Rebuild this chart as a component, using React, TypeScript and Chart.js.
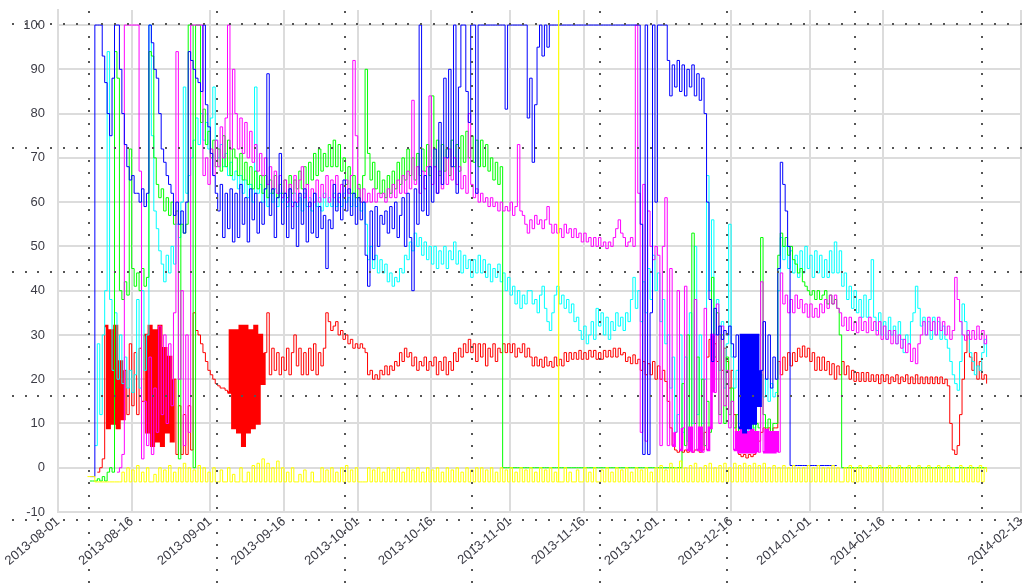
import React, { useEffect, useRef } from "react";
import { Chart, registerables } from "chart.js";

Chart.register(...registerables);

// ---- axes ----
const X_MIN_DAY = 0;
const X_MAX_DAY = 196;
const X_TICK_DAYS = [0, 15, 31, 46, 61, 76, 92, 107, 122, 137, 153, 168, 196];
const X_TICK_LABELS = [
  "2013-08-01", "2013-08-16", "2013-09-01", "2013-09-16", "2013-10-01", "2013-10-16",
  "2013-11-01", "2013-11-16", "2013-12-01", "2013-12-16", "2014-01-01", "2014-01-16", "2014-02-13",
];
const Y_MIN = -10;
const Y_MAX = 103.4;
const Y_TICKS = [-10, 0, 10, 20, 30, 40, 50, 60, 70, 80, 90, 100];

// ---- sampling: every series is read at half-day steps from day 6 (2013-08-07) ----
const START_DAY = 6;
const STEP_DAYS = 0.5;

// ---- series values ----
const blueValues = [
  null, -2, -2, 100, 100, 100, 93, 87, 80, 75, 88, 100, 100, 90, 80, 73, 68, 65, 66, 62,
  62, 60, 63, 59, 62, 100, 96, 90, 88, 80, 72, 69, 66, 64, 62, 57, 60, 55, 58, 53,
  60, 94, 92, 90, 88, 87, 85, 100, 82, 77, 71, 66, 62, 58, 64, 52, 62, 54, 63, 51,
  62, 52, 64, 55, 61, 51, 63, 56, 62, 53, 60, 55, 63, 89, 57, 63, 52, 61, 71, 55,
  62, 52, 63, 54, 60, 50, 62, 55, 63, 51, 60, 53, 62, 52, 59, 54, 57, 45, 56, 54,
  64, 58, 62, 56, 65, 58, 63, 57, 62, 55, 61, 56, 60, 48, 41, 58, 47, 59, 50, 57,
  55, 58, 53, 59, 54, 60, 52, 57, 61, 50, 62, 52, 40, 63, 55, 100, 58, 66, 57, 68,
  60, 72, 62, 78, 64, 88, 70, 90, 68, 100, 62, 86, 100, 100, 85, 78, 100, 100, 62, 100,
  100, 100, 100, 100, 100, 100, 100, 100, 100, 100, 81, 100, 100, 100, 100, 100, 100, 100, 100, 79,
  88, 69, 82, 95, 100, 93, 100, 95, 100, 100, 100, 100, 100, 100, 100, 100, 100, 100, 100, 100,
  100, 100, 100, 100, 100, 100, 100, 100, 100, 100, 100, 100, 100, 100, 100, 100, 100, 100, 100, 100,
  100, 100, 100, 100, 100, 55, 3, 100, 3, 35, 100, 60, 100, 100, 100, 100, 92, 84, 91, 86,
  92, 85, 91, 84, 90, 86, 91, 84, 89, 83, 88, 80, 60, 38, 24, 36, 30, 32, 29, 31,
  30, 32, 28, 25, 30, 9, 30, 8, 30, 9, 30, 10, 30, 14, 22, 33, 20, 30, 18, 25,
  20, 45, 69, 64, 58, 50, 0.5, 0.5, 0.5, 0.5, 0.5, 0.5, 0.5, 0.5, 0.5, 0.5, 0.5, 0.5, 0.5, 0.5,
  0.5, 0.5, 0.5, 0.5, 0.5, 0.5,
];

const greenValues = [
  null, -3, -3, -3, -2.5, -3, -2, -3, -1, 0, -1, 94, 88, 40, 38, 42, 39, 72, 45, 41,
  44, 40, 45, 41, 43, 94, 93, 70, 64, 61, 63, 58, 61, 57, 60, 55, 58, 2, 55, 53,
  55, 100, 100, 0, 100, 100, 78, 81, 73, 76, 70, 74, 68, 72, 67, 75, 68, 74, 66, 72,
  70, 66, 71, 65, 69, 64, 68, 63, 67, 63, 66, 62, 66, 61, 65, 62, 66, 61, 64, 62,
  65, 61, 66, 62, 65, 63, 67, 63, 68, 64, 69, 65, 71, 66, 72, 67, 71, 68, 73, 68,
  74, 68, 73, 67, 70, 64, 68, 62, 66, 61, 64, 60, 66, 90, 71, 65, 69, 63, 67, 62,
  65, 61, 66, 62, 67, 63, 69, 64, 70, 65, 72, 66, 70, 65, 71, 66, 72, 67, 73, 66,
  84, 68, 74, 66, 73, 67, 72, 66, 74, 68, 73, 67, 75, 69, 76, 70, 75, 69, 74, 68,
  74, 68, 73, 67, 70, 65, 69, 64, 68, 0, 0, 0, 0, 0, 0, 0, 0, 0, 0, 0,
  0, 0, 0, 0, 0, 0, 0, 0, 0, 0, 0, 0, 0, 0, 0, 0, 0, 0, 0, 0,
  0, 0, 0, 0, 0, 0, 0, 0, 0, 0, 0, 0, 0, 0, 0, 0, 0, 0, 0, 0,
  0, 0, 0, 0, 0, 0, 0, 0, 0, 0, 0, 0, 0, 0, 0, 0, 0, 0, 0, 0,
  0, 0, 19, 5, 30, 8, 53, 10, 25, 6, 20, 5, 15, 8, 43, 25, 35, 12, 30, 10,
  25, 12, 18, 9, 12, 8, 11, 8, 12, 9, 11, 8, 10, 9, 52, 12, 9, 11, 8, 10,
  10, 48, 53, 50, 52, 48, 50, 47, 46, 44, 45, 42, 41, 40, 39, 40, 38, 40, 38, 39,
  40, 37, 39, 37, 38, 36, 30, 0, 0, 0, 0, 0, 0, 0, 0, 0, 0, 0, 0, 0,
  0, 0, 0, 0, 0, 0, 0, 0, 0, 0, 0, 0, 0, 0, 0, 0, 0, 0, 0, 0,
  0, 0, 0, 0, 0, 0, 0, 0, 0, 0, 0, 0, 0, 0, 0, 0, 0, 0, 0, 0,
  0, 0, 0, 0, 0, 0, 0,
];

const cyanValues = [
  null, null, null, 5, 28, 12, 30, 40, 94, 38, 22, 35, 20, 30, 19, 25, 18, 22, 17, 21,
  38, 18, 40, 22, 30, 100, 75, 58, 54, 49, 46, 42, 48, 44, 50, 46, 55, 52, 60, 86,
  62, 66, 70, 74, 79, 73, 80, 74, 78, 72, 79, 86, 74, 70, 73, 68, 71, 66, 69, 65,
  67, 63, 66, 62, 65, 61, 64, 60, 86, 62, 64, 60, 63, 59, 62, 60, 63, 59, 62, 60,
  62, 59, 63, 60, 62, 59, 61, 58, 62, 59, 61, 58, 62, 59, 61, 58, 62, 59, 61, 59,
  62, 59, 61, 59, 62, 60, 61, 59, 62, 59, 61, 58, 60, 55, 47, 50, 45, 48, 44, 47,
  44, 46, 42, 44, 41, 43, 42, 45, 44, 48, 47, 51, 49, 53, 50, 52, 48, 51, 47, 50,
  46, 50, 45, 49, 46, 50, 45, 49, 47, 51, 46, 49, 44, 48, 45, 47, 43, 47, 44, 48,
  44, 47, 43, 46, 42, 45, 43, 46, 42, 44, 40, 43, 39, 41, 37, 40, 36, 39, 37, 40,
  40, 37, 38, 35, 39, 41, 36, 33, 31, 35, 39, 41, 37, 39, 36, 38, 35, 37, 33, 34,
  31, 29, 32, 28, 30, 33, 29, 36, 32, 35, 30, 34, 29, 33, 31, 35, 32, 34, 31, 35,
  33, 38, 43, 36, 40, 33, 42, 35, 45, 38, 48, 40, 44, 33, 38, 28, 30, 18, 25, 8,
  12, 30, 8, 25, 6, 35, 10, 50, 12, 30, 10, 20, 66, 40, 56, 30, 38, 22, 33, 18,
  28, 55, 25, 18, 22, 10, 14, 9, 13, 8, 12, 9, 14, 18, 21, 16, 20, 15, 19, 16,
  17, 40, 52, 47, 50, 45, 49, 44, 48, 43, 49, 44, 50, 45, 48, 43, 49, 44, 48, 43,
  47, 43, 49, 44, 51, 44, 49, 41, 44, 38, 41, 36, 40, 35, 38, 34, 39, 34, 38, 47,
  34, 31, 35, 30, 33, 29, 34, 30, 32, 28, 33, 29, 26, 30, 28, 33, 35, 41, 36, 32,
  34, 30, 33, 29, 34, 30, 33, 29, 32, 29, 27, 24, 21, 19, 17.5, 24, 37, 33, 30, 26,
  24, 21, 23, 22, 26, 29, 25,
];

const magentaValues = [
  null, null, null, null, null, null, null, null, null, null, null, null, -1, 0, 3, 100, 100, 100, 100, 100,
  100, 67, 2, 15, 5, 25, 3, 18, 8, 32, 12, 30, 10, 28, 14, 35, 94, 20, 40, 5,
  30, 8, 100, 100, 100, 100, 100, 66, 70, 64, 72, 66, 74, 68, 77, 70, 79, 100, 72, 90,
  80, 72, 79, 71, 78, 70, 76, 69, 73, 67, 71, 66, 70, 64, 68, 63, 67, 62, 66, 61,
  65, 60, 64, 59, 66, 60, 65, 68, 61, 64, 59, 63, 60, 65, 60, 64, 61, 66, 60, 65,
  61, 66, 60, 64, 61, 65, 62, 66, 92, 75, 63, 60, 63, 60, 62, 60, 63, 60, 62, 61,
  62, 60, 63, 61, 64, 61, 65, 62, 66, 62, 67, 63, 83, 64, 68, 62, 67, 63, 68, 84,
  64, 68, 62, 67, 63, 70, 64, 72, 65, 70, 64, 68, 63, 66, 62, 80, 64, 61, 63, 60,
  62, 60, 61, 59, 61, 59, 60, 58, 60, 58, 59, 58, 60, 57, 59, 73, 58, 57, 55, 53,
  56, 54, 57, 55, 56, 54, 56, 59, 55, 53, 55, 53, 54, 52, 55, 53, 54, 52, 54, 52,
  53, 51, 53, 51, 52, 50, 52, 50, 52, 50, 51, 49.5, 51, 50, 52, 54, 56, 53, 52, 50,
  51, 52, 50, 100, 62, 8, 64, 6, 58, 50, 47, 50, 48, 5, 50, 61, 5, 45, 5, 8,
  40, 4, 9, 41, 4, 9, 3.5, 38, 4, 9, 3.5, 36, 4, 9, 30, 17, 37, 10, 32, 14,
  22, 9, 15, 4, 8, 3.5, 8.5, 3.5, 8, 3.5, 8.5, 3.5, 8, 3.5, 42, 3.5, 8.5, 3.5, 8, 3.5,
  8, 3.5, 44, 37, 39, 35, 38, 35, 39, 36, 38, 35, 37, 34, 37, 34, 36, 34, 37, 35,
  38, 36, 39, 37, 39, 36, 35, 32, 34, 31, 34, 31, 33, 30.5, 34, 31, 33, 30.5, 34, 31,
  33, 30, 33, 29, 32, 29, 31, 28, 31, 28, 30, 27, 29, 26, 28, 24, 27, 23.5, 28, 30,
  33, 30, 34, 31, 33, 30, 34, 31, 33, 30, 32, 29, 31, 43, 38, 33, 30, 28.8, 31, 29,
  31, 29, 32, 29, 31, 28, 30,
];

const redValues = [
  null, null, null, null, -1, 0, 2, 32, 9, 31, 10, 32, 9, 24, 11, 22, 12, 28, 14, 26,
  12, 27, 15, 30, 8, 32, 5, 31, 6, 32, 5, 27, 8, 25, 6, 20, 3, 14, 3, 12,
  3, 14, 4, 35, 31, 30, 28, 26, 24, 22, 21, 20, 19, 18.5, 18, 18, 17.5, 17, 31, 9,
  31, 8, 32, 5, 32, 8, 31, 9, 32, 10, 30, 19, 26, 35, 21, 27, 22, 26, 21, 25,
  22, 27, 21, 26, 30, 23, 27, 21, 26, 21, 27, 22, 28, 21, 26, 23, 27, 35, 33, 31,
  32, 33, 30, 31, 29, 30, 28, 29, 27, 28, 27, 28, 27, 26, 21, 22, 20, 21, 20, 22,
  21, 23, 21, 23, 22, 24, 23, 26, 24, 27, 25, 26, 23, 25, 22, 24, 23, 25, 22, 24,
  23, 25, 21, 24, 22, 25, 21, 24, 22, 26, 24, 27, 25, 28, 26, 29, 26, 28, 24, 28,
  25, 28, 23, 27, 25, 28, 24, 27, 26, 28, 26, 28, 26, 28, 25, 27, 26, 28, 25, 27,
  25, 23, 25, 23, 24.5, 22.7, 25, 23, 24, 22.7, 25, 23, 24.5, 23, 26, 24, 26, 24.5, 26, 24.5,
  26.5, 24.5, 26, 24.5, 26.5, 25, 26.5, 24.5, 26, 24.5, 26.5, 25, 26.5, 25, 27, 25, 27, 25.5, 26, 24,
  25, 23.5, 25.5, 23.5, 24.5, 22, 24, 21, 23.5, 21, 24, 20, 23, 20, 22, 19.5, 15, 9, 5, 4,
  3.5, 4, 3.5, 4, 3.5, 4, 3.5, 4, 4, 3.5, 4, 8, 25, 29, 22, 28, 24, 30, 22, 27,
  24, 18, 22, 12, 5, 3, 2.5, 3, 2.2, 3, 2.5, 3, 4, 6, 8, 9, 8, 9, 8, 9,
  9, 24, 21, 25, 22, 26, 23, 26, 24, 27, 25, 27.5, 25, 27, 24, 26, 22, 25, 22, 25,
  22, 24, 21, 23.5, 20, 23, 21, 24, 21, 23, 20, 22, 19.5, 21.5, 19.5, 21.5, 19.5, 21.5, 19.5, 21,
  19.5, 21, 19, 21, 19.5, 21, 19, 20.5, 19.5, 21, 19, 20.5, 19.5, 21, 19, 20.5, 19, 21, 19, 20.5,
  19, 20.5, 19, 20.5, 19, 20.5, 19, 20.5, 19, 20, 18.5, 10, 4, 3, 5, 12, 20, 26, 30, 25,
  22, 26, 20, 24, 20, 21, 19,
];

const yellowValues = [
  -2, -2, -2, -3.2, -3.2, -3.2, -3.2, -3.2, -3.2, -3.2, -3.2, -3.2, -3.2, -3.2, -1, -3.2, 0, -3.2, -0.5, -3.2,
  0.5, -3.2, -1, -3.2, 0, -3.2, -3.2, -1.5, -3.2, 0, -3.2, -0.5, -3.2, 0.5, -3.2, -1, -3.2, 0, -3.2, 1,
  -3.2, 0, -3.2, -0.5, -3.2, 0.5, -3.2, 0, -3.2, -1, -3.2, 0, -3.2, -3.2, -0.5, -3.2, -3.2, 0, -3.2, -1.5,
  -3.2, -3.2, 0, -3.2, -3.2, -1, -3.2, 0.5, -3.2, 1, -3.2, 2, -3.2, 1, -3.2, 0, -3.2, 1.5, -3.2, 0,
  -3.2, -1, -3.2, 0, -3.2, -3.2, -1.5, -3.2, -0.5, -3.2, -3.2, -1, -3.2, -3.2, -3.2, 0, -3.2, -0.5, -3.2, 0,
  -3.2, -1, -3.2, 0, -3.2, 0.5, -3.2, -0.5, -3.2, 0, -3.2, -3.2, -3.2, -3.2, 0, -3.2, -0.5, -3.2, 0, -3.2,
  -1, -3.2, 0, -3.2, -0.5, -3.2, 0, -3.2, -1, -3.2, 0, -3.2, -0.5, -3.2, 0, -3.2, -1, -3.2, 0, -3.2,
  -0.5, -3.2, 0, -3.2, -1, -3.2, 0, -3.2, -0.5, -3.2, 0, -3.2, -1, -3.2, 0, -3.2, -0.5, -3.2, 0, -3.2,
  0, -3.2, -0.5, -3.2, 0, -3.2, -1, -3.2, 0, -3.2, -0.5, -3.2, 0, -3.2, -1, -3.2, 0, -3.2, -0.5, -3.2,
  0, -3.2, -1, -3.2, 0, -3.2, -0.5, -3.2, 0, -3.2, -1, -3.2, -3.2, -3.2, 0, -3.2, -1, -3.2, -3.2, -0.5,
  -3.2, -3.2, 0, -3.2, -1, -3.2, 0, -3.2, -3.2, -0.5, -3.2, 0, -3.2, -1, -3.2, 0, -3.2, -0.5, -3.2, 0,
  -3.2, -1, -3.2, 0, -3.2, -0.5, -3.2, 0, -3.2, -1, -3.2, 0, -3.2, 0.5, -3.2, -0.5, -3.2, 1, -3.2, 0,
  -3.2, 1.5, -3.2, 0, -3.2, 0.5, -3.2, 1, -3.2, 0, -3.2, 0.5, -3.2, 1, -3.2, 0, -3.2, 0.5, -3.2, 1,
  -3.2, 0, -3.2, 1, -3.2, 0.5, -3.2, 1, -3.2, 0.5, -3.2, 1, -3.2, 0.5, -3.2, 1, -3.2, 0, -3.2, 0.5,
  -3.2, 0, -3.2, 0.5, -3.2, 0, -3.2, 0.5, -3.2, 0, -3.2, 0, -3.2, 0.5, -3.2, 0, -3.2, 0.5, -3.2, 0,
  -3.2, 0, -3.2, 0.5, -3.2, 0, -3.2, -3.2, 0, -3.2, 0.5, -3.2, 0, -3.2, 0.5, -3.2, 0, -3.2, 0.5, -3.2,
  0, -3.2, 0.5, -3.2, 0, -3.2, 0.5, -3.2, 0, -3.2, 0.5, -3.2, 0, -3.2, 0.5, -3.2, 0, -3.2, 0.5, -3.2,
  0, -3.2, 0.5, -3.2, 0, -3.2, 0.5, -3.2, 0, -3.2, 0.5, -3.2, 0, -3.2, -3.2, 0.5, -3.2, 0, -3.2, 0.5,
  -3.2, 0, -3.2, 0.5, -3.2, 0, -1,
];

// the single tall yellow event line (one day, from the base up past the top)
const yellowEventDay = 101.9;
const yellowEventValues = [-3.2, 104];

// day ranges where a series is so dense that it reads as a solid block
const RED_DENSE_DAYS = [[9.5, 13], [17.5, 23], [34.5, 41.5]];
const MAGENTA_DENSE_DAYS = [[124, 133], [137.5, 146]];
const BLUE_DENSE_DAYS = [[138.5, 142.5]];
const DENSE_MAX_JUMP = 28; // taller jumps inside a block stay thin spikes

// first listed = drawn on top
const SERIES = [
  { name: "yellow", color: "#ffff00", values: yellowValues, dense: [] as number[][] },
  { name: "blue", color: "#0000ff", values: blueValues, dense: BLUE_DENSE_DAYS },
  { name: "magenta", color: "#ff00ff", values: magentaValues, dense: MAGENTA_DENSE_DAYS },
  { name: "green", color: "#00ff00", values: greenValues, dense: [] as number[][] },
  { name: "cyan", color: "#00ffff", values: cyanValues, dense: [] as number[][] },
  { name: "red", color: "#ff0000", values: redValues, dense: RED_DENSE_DAYS },
];

const GRID_COLOR = "#dcdcdc";
const TEXT_COLOR = "#3c3c46";
const FONT = { family: '"Liberation Sans", Arial, sans-serif', size: 13 };

// decorative dotted overlay (a separate dotted grid on top of the picture)
const dotGridPlugin = {
  id: "dotGrid",
  afterDraw(chart: any) {
    const ctx = chart.ctx;
    const W = chart.width;
    const H = chart.height;
    const dx = 12.76;
    const dy = 12.4;
    const x0 = 89.3;
    const y0 = 24.3;
    ctx.save();
    ctx.fillStyle = "#555";
    for (let r = 0; r < 5; r++) {
      const y = y0 + r * 10 * dy;
      for (let k = -7; x0 + k * dx < W; k++) {
        const x = x0 + k * dx;
        if (x < 6) continue;
        ctx.fillRect(Math.round(x) - 1, Math.round(y) - 1, 2, 2);
      }
    }
    for (let c = 0; c < 8; c++) {
      const x = x0 + c * 10 * dx;
      for (let k = -1; y0 + k * dy < H; k++) {
        const y = y0 + k * dy;
        if (y < 6) continue;
        ctx.fillRect(Math.round(x) - 1, Math.round(y) - 1, 2, 2);
      }
    }
    ctx.restore();
  },
};

export default function App() {
  const canvasRef = useRef<HTMLCanvasElement | null>(null);

  useEffect(() => {
    document.body.style.margin = "0";
    const canvas = canvasRef.current;
    if (!canvas) return;

    const datasets: any[] = SERIES.map((s) => {
      const data = s.values.map((v, i) => ({ x: START_DAY + i * STEP_DAYS, y: v }));
      const inDense = (day: number) => s.dense.some((r) => day >= r[0] && day <= r[1]);
      return {
        label: s.name,
        data,
        borderColor: s.color,
        backgroundColor: s.color,
        borderWidth: 1,
        pointRadius: 0,
        pointHoverRadius: 0,
        fill: false,
        stepped: true,
        spanGaps: false,
        tension: 0,
        clip: 0,
        segment: {
          borderWidth: (ctx: any) => {
            const a = data[ctx.p0DataIndex];
            const b = data[ctx.p1DataIndex];
            if (!a || !b || a.y == null || b.y == null) return 1;
            return inDense(a.x) && Math.abs(b.y - a.y) <= DENSE_MAX_JUMP ? 2.6 : 1;
          },
        },
      };
    });

    datasets.unshift({
      label: "yellow event",
      data: yellowEventValues.map((v) => ({ x: yellowEventDay, y: v })),
      borderColor: "#ffff00",
      borderWidth: 1.2,
      pointRadius: 0,
      fill: false,
      clip: 0,
    });

    const chart = new Chart(canvas, {
      type: "line",
      data: { datasets },
      plugins: [dotGridPlugin],
      options: {
        animation: false,
        responsive: false,
        devicePixelRatio: 1,
        parsing: false,
        layout: { padding: { left: 0, top: 0, right: 3, bottom: 0 } },
        plugins: {
          legend: { display: false },
          tooltip: { enabled: false },
          title: { display: false },
        },
        font: FONT,
        scales: {
          x: {
            type: "linear",
            min: X_MIN_DAY,
            max: X_MAX_DAY,
            afterBuildTicks: (scale: any) => {
              scale.ticks = X_TICK_DAYS.map((v) => ({ value: v }));
            },
            afterFit: (scale: any) => {
              scale.height = 73;
              scale.paddingLeft = 0;
              scale.paddingRight = 0;
            },
            ticks: {
              autoSkip: false,
              minRotation: 40,
              maxRotation: 40,
              padding: 2,
              color: TEXT_COLOR,
              font: FONT,
              callback: (value: any) => {
                const idx = X_TICK_DAYS.indexOf(Number(value));
                return idx >= 0 ? X_TICK_LABELS[idx] : "";
              },
            },
            grid: { color: GRID_COLOR, lineWidth: 2, drawTicks: false },
            border: { display: true, color: GRID_COLOR, width: 2 },
          },
          y: {
            type: "linear",
            min: Y_MIN,
            max: Y_MAX,
            afterBuildTicks: (scale: any) => {
              scale.ticks = Y_TICKS.map((v) => ({ value: v }));
            },
            afterFit: (scale: any) => {
              scale.width = 58;
              scale.paddingTop = 10;
              scale.paddingBottom = 0;
            },
            ticks: {
              padding: 13,
              color: TEXT_COLOR,
              font: FONT,
              callback: (value: any) => String(value),
            },
            grid: { color: GRID_COLOR, lineWidth: 2, drawTicks: false },
            border: { display: true, color: GRID_COLOR, width: 2 },
          },
        },
      },
    } as any);

    return () => {
      chart.destroy();
    };
  }, []);

  return (
    <div style={{ position: "fixed", left: 0, top: 0, width: 1024, height: 585, background: "#fff" }}>
      <canvas ref={canvasRef} width={1024} height={585} style={{ display: "block" }} />
    </div>
  );
}
